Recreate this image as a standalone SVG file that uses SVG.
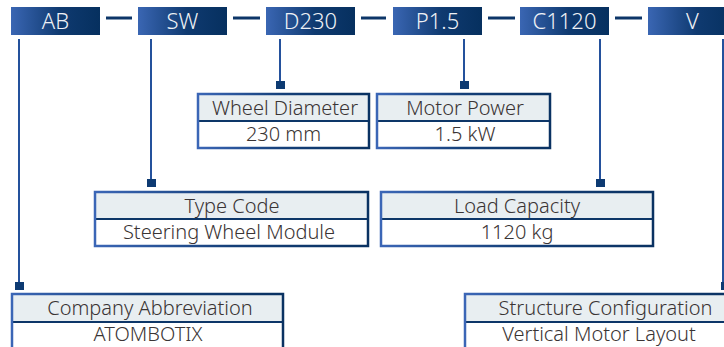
<svg xmlns="http://www.w3.org/2000/svg" width="724" height="347" viewBox="0 0 724 347">
<defs>
<linearGradient id="gTop" x1="0" y1="0" x2="1" y2="0">
<stop offset="0" stop-color="#3a66b3"/><stop offset="0.55" stop-color="#0f3a70"/><stop offset="1" stop-color="#06305f"/>
</linearGradient>
<linearGradient id="gBorder" x1="0" y1="0" x2="1" y2="0">
<stop offset="0" stop-color="#3b66b6"/><stop offset="0.5" stop-color="#143f78"/><stop offset="1" stop-color="#0a3262"/>
</linearGradient>
<style>
.code{fill:url(#gTop)}
.codetxt{font-family:"Noto Sans","Open Sans",sans-serif;font-size:22px;font-weight:300;fill:#eef1f6;text-anchor:middle}
.dash{stroke:#0d3668;stroke-width:3}
.vline{stroke:#24519c;stroke-width:2;fill:none}
.sq{fill:#0d3a72}
.hdr{fill:#e8eef1}
.val{fill:#ffffff}
.frame{fill:none;stroke:url(#gBorder);stroke-width:2.5}
.div{stroke:#0d3668;stroke-width:2}
.lbl{font-family:"Noto Sans","Open Sans",sans-serif;font-size:20px;font-weight:300;fill:#3a3434;text-anchor:middle}
</style>
</defs>
<g id="connectors">
<line class="dash" x1="106" y1="18" x2="132" y2="18"/>
<line class="dash" x1="233" y1="18" x2="260" y2="18"/>
<line class="dash" x1="361" y1="18" x2="386" y2="18"/>
<line class="dash" x1="488" y1="18" x2="515" y2="18"/>
<line class="dash" x1="615" y1="18" x2="642" y2="18"/>
<line class="vline" x1="19" y1="39" x2="19" y2="283"/>
<rect class="sq" x="15" y="282" width="9" height="8"/>
<line class="vline" x1="151" y1="39" x2="151" y2="180"/>
<rect class="sq" x="147" y="179" width="9" height="8"/>
<line class="vline" x1="280" y1="39" x2="280" y2="82"/>
<rect class="sq" x="276" y="81" width="9" height="8"/>
<line class="vline" x1="464" y1="39" x2="464" y2="82"/>
<rect class="sq" x="460" y="81" width="9" height="8"/>
<line class="vline" x1="600" y1="39" x2="600" y2="180"/>
<rect class="sq" x="596" y="179" width="9" height="8"/>
<line class="vline" x1="723" y1="39" x2="723" y2="283"/>
<rect class="sq" x="721" y="282" width="9" height="8"/>
</g>
<g id="code-AB"><rect class="code" x="11" y="7" width="89" height="28"/><text class="codetxt" x="55.5" y="28.5">AB</text></g>
<g id="code-SW"><rect class="code" x="138" y="7" width="89" height="28"/><text class="codetxt" x="182.5" y="28.5">SW</text></g>
<g id="code-D230"><rect class="code" x="266" y="7" width="89" height="28"/><text class="codetxt" x="310.5" y="28.5">D230</text></g>
<g id="code-P15"><rect class="code" x="393" y="7" width="89" height="28"/><text class="codetxt" x="437.5" y="28.5">P1.5</text></g>
<g id="code-C1120"><rect class="code" x="520" y="7" width="89" height="28"/><text class="codetxt" x="564.5" y="28.5">C1120</text></g>
<g id="code-V"><rect class="code" x="648" y="7" width="89" height="28"/><text class="codetxt" x="692.5" y="28.5">V</text></g>

<g id="wheel-diameter">
<rect class="hdr" x="198" y="94" width="171" height="27"/><rect class="val" x="198" y="121" width="171" height="27"/>
<line class="div" x1="198" y1="121" x2="369" y2="121"/><rect class="frame" x="198" y="94" width="171" height="54"/>
<text class="lbl" x="285" y="115">Wheel Diameter</text><text class="lbl" x="283.5" y="141">230 mm</text>
</g>
<g id="motor-power">
<rect class="hdr" x="377" y="94" width="173" height="27"/><rect class="val" x="377" y="121" width="173" height="27"/>
<line class="div" x1="377" y1="121" x2="550" y2="121"/><rect class="frame" x="377" y="94" width="173" height="54"/>
<text class="lbl" x="465" y="115">Motor Power</text><text class="lbl" x="465" y="141">1.5 kW</text>
</g>
<g id="type-code">
<rect class="hdr" x="95" y="192" width="273" height="27"/><rect class="val" x="95" y="219" width="273" height="27"/>
<line class="div" x1="95" y1="219" x2="368" y2="219"/><rect class="frame" x="95" y="192" width="273" height="54"/>
<text class="lbl" x="232" y="213">Type Code</text><text class="lbl" x="229" y="239">Steering Wheel Module</text>
</g>
<g id="load-capacity">
<rect class="hdr" x="381" y="192" width="272" height="27"/><rect class="val" x="381" y="219" width="272" height="27"/>
<line class="div" x1="381" y1="219" x2="653" y2="219"/><rect class="frame" x="381" y="192" width="272" height="54"/>
<text class="lbl" x="517" y="213">Load Capacity</text><text class="lbl" x="517" y="239">1120 kg</text>
</g>
<g id="company-abbreviation">
<rect class="hdr" x="12" y="294" width="271" height="28"/><rect class="val" x="12" y="322" width="271" height="30"/>
<line class="div" x1="12" y1="322" x2="283" y2="322"/><rect class="frame" x="12" y="294" width="271" height="58"/>
<text class="lbl" x="150" y="315">Company Abbreviation</text><text class="lbl" x="148" y="341">ATOMBOTIX</text>
</g>
<g id="structure-configuration">
<rect class="hdr" x="465" y="294" width="271" height="28"/><rect class="val" x="465" y="322" width="271" height="30"/>
<line class="div" x1="465" y1="322" x2="736" y2="322"/><rect class="frame" x="465" y="294" width="271" height="58"/>
<text class="lbl" x="605.5" y="315">Structure Configuration</text><text class="lbl" x="599" y="341">Vertical Motor Layout</text>
</g>
</svg>
